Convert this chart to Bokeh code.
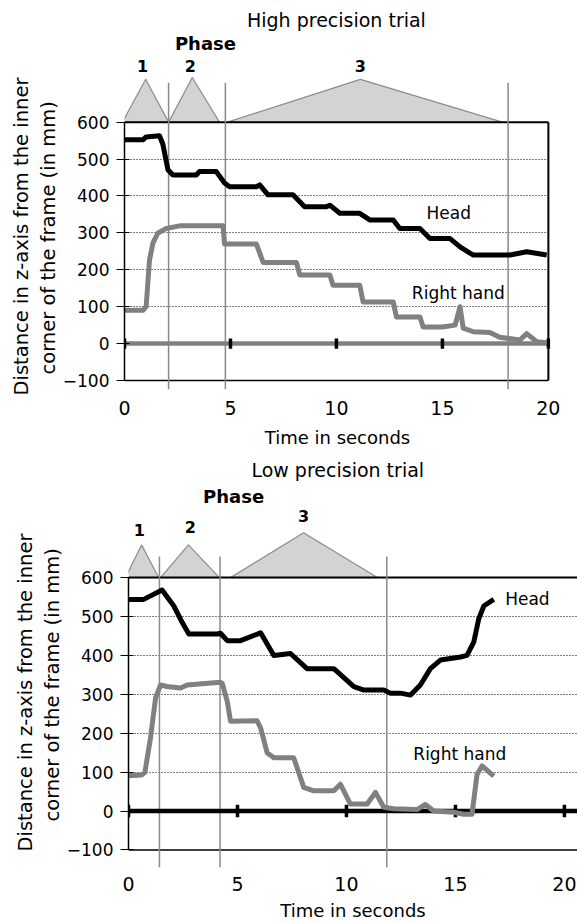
from bokeh.plotting import figure
from bokeh.models import FixedTicker, Range1d, Title
from bokeh.embed import file_html
from bokeh.resources import INLINE
from bokeh.core.properties import value

FONT = "DejaVu Sans"

# ---------------- data ----------------
x_ticks = [0, 5, 10, 15, 20]
y_ticks = [-100, 0, 100, 200, 300, 400, 500, 600]
grid_values = [100, 200, 300, 400, 500]
phase_names = ["1", "2", "3"]
y_title_lines = ["Distance in z-axis from the inner", "corner of the frame (in mm)"]

# High precision trial
hp_head_t = [0, 0.87, 1.02, 1.65, 1.81, 2.05, 2.28, 3.39, 3.54, 4.33, 4.72, 4.96, 6.22, 6.38,
             6.77, 7.95, 8.5, 9.53, 9.69, 10.16, 11.1, 11.57, 12.68, 12.99, 13.94, 14.41,
             15.35, 15.83, 16.3, 16.46, 18.19, 18.98, 19.92]
hp_head_v = [552, 552, 560, 563, 540, 471, 457, 457, 466, 466, 435, 425, 425, 430,
             403, 403, 371, 371, 375, 353, 353, 335, 335, 312, 312, 285,
             285, 262, 245, 240, 240, 249, 240]
hp_hand_t = [0, 0.87, 1.02, 1.18, 1.34, 1.57, 1.97, 2.6, 4.65, 4.72, 6.22, 6.54, 8.11, 8.27,
             9.69, 9.84, 11.1, 11.26, 12.68, 12.83, 13.94, 14.09, 15.0, 15.6, 15.83, 15.98,
             16.46, 17.24, 17.7, 18.66, 18.98, 19.45, 19.92]
hp_hand_v = [90, 90, 100, 226, 272, 299, 312, 319, 319, 270, 270, 220, 220, 186,
             186, 158, 158, 113, 113, 72, 72, 45, 45, 50, 100, 42,
             32, 30, 17, 10, 27, 5, 2]
hp_phase_start = [-0.1, 2.08, 4.86]
hp_phase_peak = [1.0, 3.2, 11.13]
hp_phase_end = [2.08, 4.48, 17.83]
hp_phase_height = [716, 721, 716]
hp_boundaries = [2.08, 4.76, 18.1]

# Low precision trial
lp_head_t = [0, 0.70, 1.01, 1.54, 2.08, 2.46, 2.77, 4.07, 4.22, 4.53, 5.14, 6.06, 6.67, 7.43,
             8.19, 9.42, 10.34, 10.8, 11.71, 12.02, 12.48, 12.94, 13.39, 13.85, 14.31, 15.23,
             15.53, 15.84, 16.07, 16.3, 16.76]
lp_head_v = [544, 544, 553, 568, 527, 485, 455, 455, 457, 438, 438, 458, 400, 405,
             366, 366, 320, 311, 311, 303, 303, 298, 324, 366, 388, 396,
             400, 434, 494, 527, 544]
lp_hand_t = [0, 0.6, 0.75, 1.01, 1.24, 1.47, 1.77, 2.39, 2.69, 4.22, 4.3, 4.53, 4.68, 5.9,
             6.06, 6.36, 6.67, 7.58, 8.04, 8.5, 9.42, 9.72, 10.18, 10.95, 11.33, 11.71,
             12.17, 13.24, 13.62, 14.0, 14.92, 15.38, 15.76, 15.99, 16.22, 16.76]
lp_hand_v = [91, 93, 99, 188, 290, 324, 320, 316, 324, 331, 328, 282, 231, 232,
             214, 150, 137, 137, 61, 52, 52, 69, 18, 18, 48, 10,
             6, 4, 17, 0, -3, -8, -8, 94, 116, 90]
lp_phase_start = [-0.14, 1.47, 4.68]
lp_phase_peak = [0.6, 2.75, 8.03]
lp_phase_end = [1.38, 4.17, 11.42]
lp_phase_height = [684, 684, 715]
lp_boundaries = [1.42, 4.2, 11.85]


def panel(title, head_t, head_v, hand_t, hand_v, ph_start, ph_peak, ph_end, ph_height,
          boundaries, cfg):
    p = figure(width=577, height=cfg["height"],
               x_range=Range1d(0, cfg["x_end"]), y_range=Range1d(cfg["y_start"], cfg["y_end"]),
               output_backend="svg", toolbar_location=None,
               min_border_left=cfg["left"], min_border_right=cfg["right"],
               min_border_top=5, min_border_bottom=cfg["bottom"])
    p.outline_line_color = None
    p.background_fill_color = "white"
    p.xgrid.visible = False
    p.ygrid.ticker = FixedTicker(ticks=grid_values)
    p.ygrid.grid_line_color = "black"
    p.ygrid.grid_line_dash = "1 2"
    p.ygrid.grid_line_width = 1.2

    # y axis
    ya = p.yaxis[0]
    ya.ticker = FixedTicker(ticks=y_ticks)
    ya.bounds = (-100, 600)
    ya.axis_line_color = "black"
    ya.axis_line_width = 1.5
    ya.major_tick_in = 5
    ya.major_tick_out = 8
    ya.major_tick_line_color = "black"
    ya.minor_tick_line_color = None
    ya.major_label_text_font = FONT
    ya.major_label_text_font_size = "17px"
    ya.major_label_text_color = "black"
    ya.major_label_standoff = 7

    # y-axis title: two rotated lines, placed along the left side
    for line_text, off, so in zip(reversed(y_title_lines), reversed(cfg["ytitle_offsets"]),
                                  [0, 3]):
        p.add_layout(Title(text=line_text, align="left", offset=off, standoff=so,
                           text_font=FONT, text_font_size="19.5px", text_font_style="normal",
                           text_color="black"), "left")

    # x axis (labels only; axis line drawn at -100)
    xa = p.xaxis[0]
    xa.ticker = FixedTicker(ticks=x_ticks)
    xa.axis_line_color = None
    xa.major_tick_line_color = None
    xa.minor_tick_line_color = None
    xa.major_tick_out = 0
    xa.major_tick_in = 0
    xa.major_label_text_font = FONT
    xa.major_label_text_font_size = "19px"
    xa.major_label_text_color = "black"
    xa.major_label_standoff = cfg["xlab_standoff"]
    xa.axis_label = "Time in seconds"
    xa.axis_label_text_font = FONT
    xa.axis_label_text_font_size = "18px"
    xa.axis_label_text_font_style = "normal"
    xa.axis_label_text_color = "black"
    xa.axis_label_standoff = cfg["xtitle_standoff"]

    x_lo, x_hi = 0, cfg["frame_x_end"]

    # phase triangles
    xs = [[s, m, e] for s, m, e in zip(ph_start, ph_peak, ph_end)]
    ys = [[600, h, 600] for h in ph_height]
    p.patches(xs, ys, fill_color="#d3d3d3", line_color="#8c8c8c", line_width=1.2)

    # frame lines
    p.segment(x0=[x_lo], y0=[600], x1=[x_hi], y1=[600], line_color="black", line_width=2)
    p.segment(x0=[x_lo], y0=[-100], x1=[x_hi], y1=[-100], line_color="black", line_width=1.5)
    if cfg["right_border"]:
        p.segment(x0=[x_hi], y0=[-100], x1=[x_hi], y1=[600], line_color="black", line_width=2)

    # phase boundaries
    p.segment(x0=boundaries, y0=[cfg["bound_top"]] * len(boundaries),
              x1=boundaries, y1=[cfg["y_start"]] * len(boundaries),
              line_color="#8a8a8a", line_width=1.5)

    # zero line with ticks
    p.segment(x0=[x_lo], y0=[0], x1=[x_hi], y1=[0], line_color=cfg["zero_color"], line_width=4.5)
    p.segment(x0=x_ticks, y0=[-cfg["tick_half"]] * len(x_ticks), x1=x_ticks,
              y1=[cfg["tick_half"]] * len(x_ticks), line_color="black", line_width=3.5)

    # series
    p.line(hand_t, hand_v, line_color="#808080", line_width=5, line_join="round")
    p.line(head_t, head_v, line_color="black", line_width=5, line_join="round")

    # texts
    p.text(x=[cfg["title_x"]], y=[876], text=[title], text_font=value(FONT),
           text_font_size="19px", text_align="center", text_baseline="middle", text_color="black")
    p.text(x=[cfg["phase_x"]], y=[cfg["phase_y"]], text=["Phase"], text_font=value(FONT),
           text_font_size="18px", text_font_style="bold", text_align="center",
           text_baseline="middle", text_color="black")
    p.text(x=cfg["num_x"], y=cfg["num_y"], text=phase_names, text_font=value(FONT),
           text_font_size="16px", text_font_style="bold", text_align="center",
           text_baseline="middle", text_color="black")
    p.text(x=[cfg["head_lab"][0]], y=[cfg["head_lab"][1]], text=["Head"], text_font=value(FONT),
           text_font_size="17px", text_align="center", text_baseline="middle", text_color="black")
    p.text(x=[cfg["hand_lab"][0]], y=[cfg["hand_lab"][1]], text=["Right hand"],
           text_font=value(FONT), text_font_size="17px", text_align="center",
           text_baseline="middle", text_color="black")
    return p


cfg_hp = dict(height=452, x_end=20.1, frame_x_end=20, y_start=-124.4, y_end=916,
              left=124, right=27, bottom=63, right_border=True,
              xlab_standoff=11, xtitle_standoff=9,
              bound_top=707, zero_color="#808080", tick_half=14,
              title_x=10.0, phase_x=3.82, phase_y=813,
              num_x=[0.85, 3.11, 11.13], num_y=[751, 751, 751],
              head_lab=(15.3, 353), hand_lab=(15.75, 136),
              ytitle_offsets=[-6, 15])

cfg_lp = dict(height=471, x_end=20.6, frame_x_end=20.6, y_start=-145, y_end=908.6,
              left=128, right=0, bottom=52, right_border=False,
              xlab_standoff=9, xtitle_standoff=6,
              bound_top=654, zero_color="black", tick_half=16,
              title_x=9.6, phase_x=4.82, phase_y=809,
              num_x=[0.5, 2.84, 8.03], num_y=[723, 730, 758],
              head_lab=(18.3, 545), hand_lab=(15.2, 146),
              ytitle_offsets=[16, 46])

p1 = panel("High precision trial", hp_head_t, hp_head_v, hp_hand_t, hp_hand_v,
           hp_phase_start, hp_phase_peak, hp_phase_end, hp_phase_height, hp_boundaries, cfg_hp)
p2 = panel("Low precision trial", lp_head_t, lp_head_v, lp_hand_t, lp_hand_v,
           lp_phase_start, lp_phase_peak, lp_phase_end, lp_phase_height, lp_boundaries, cfg_lp)

open("out.html", "w").write(file_html([p1, p2], INLINE))
